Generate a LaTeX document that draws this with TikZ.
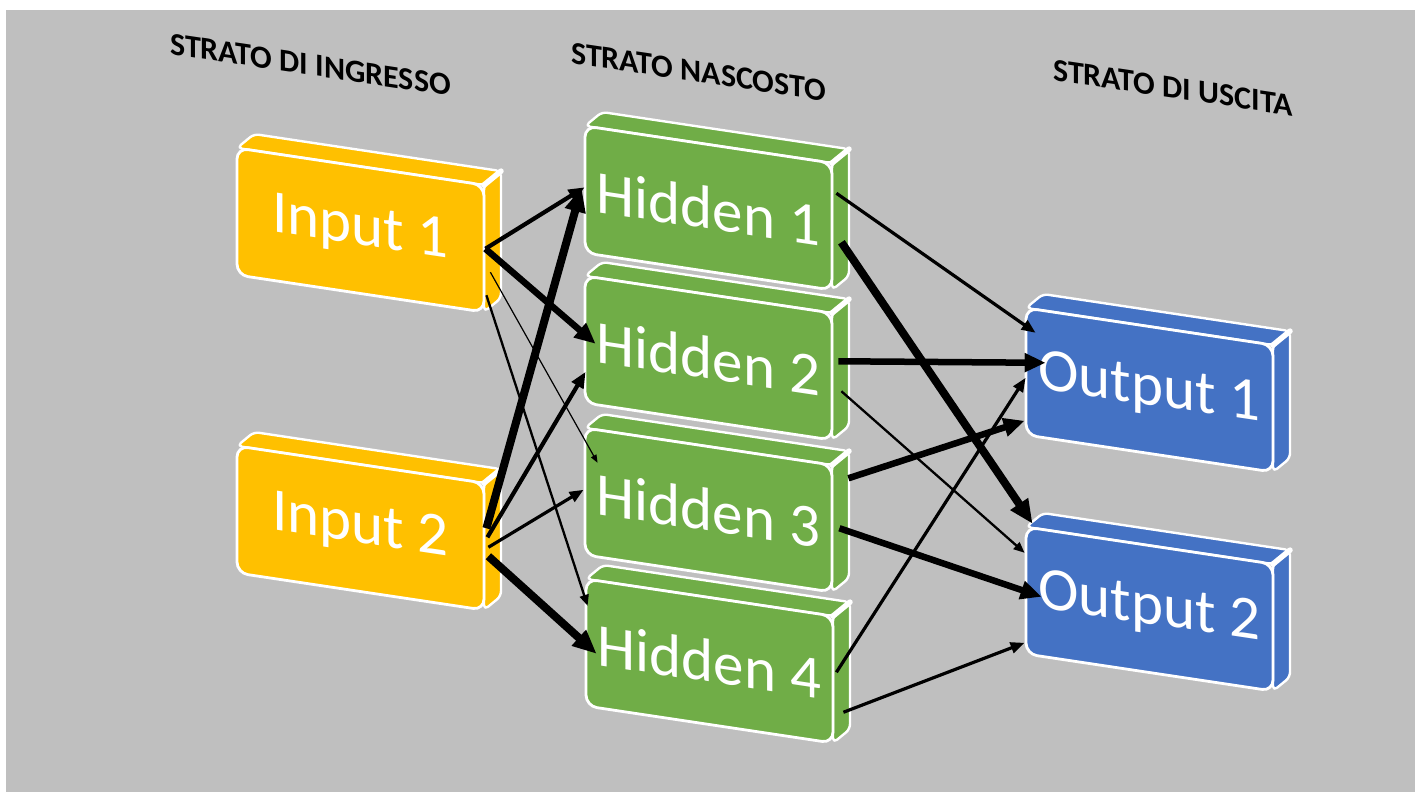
\documentclass[tikz,border=0pt]{standalone}
\usepackage{fontspec}
\setmainfont{Carlito}
\usetikzlibrary{arrows.meta}

\definecolor{canvasgray}{HTML}{BFBFBF}
\definecolor{inputgold}{HTML}{FFC000}
\definecolor{hiddengreen}{HTML}{70AD47}
\definecolor{outputblue}{HTML}{4472C4}

\tikzset{
  slabface/.style={draw=white, line width=2.8pt, rounded corners=11pt,
    minimum width=247pt, minimum height=127pt, inner sep=0pt,
    text=white, font=\fontsize{61}{61}\selectfont},
  slabside/.style={draw=white, line width=2.4pt, rounded corners=5pt, line join=round},
  layertitle/.style={inner sep=0pt, font=\bfseries\fontsize{32}{32}\selectfont, text=black},
  link/.style={draw=black, line cap=butt},
  wA/.style={link, line width=1.2pt, -{Triangle[length=8pt,width=6pt]}},
  wB/.style={link, line width=2.3pt, -{Triangle[length=11pt,width=9pt]}},
  wC/.style={link, line width=3.2pt, -{Triangle[length=14pt,width=11pt]}},
  wD/.style={link, line width=4.2pt, -{Triangle[length=16pt,width=13pt]}},
  wE/.style={link, line width=6.5pt, -{Triangle[length=21pt,width=18pt]}},
  wF/.style={link, line width=8pt, -{Triangle[length=24pt,width=20pt]}},
}

% a slanted 3D slab: #1 name, #2/#3 top-left corner, #4 colour, #5 label
\newcommand{\slab}[5]{%
  \begin{scope}[shift={(#2,#3)}, yslant=-0.15]
    \filldraw[slabside, fill=#4] (0,0) -- (17,-16.5) -- (264,-16.5) -- (247,0) -- cycle;
    \filldraw[slabside, fill=#4] (247,0) -- (264,-16.5) -- (264,110.5) -- (247,127) -- cycle;
    \draw[white, line width=5.5pt, line cap=round] (247,0) -- (264,-16.5);
    \node[slabface, fill=#4, transform shape] (#1) at (123.5,63.5) {#5};
  \end{scope}}

\begin{document}
\begin{tikzpicture}[x=1pt, y=-1pt]
  \useasboundingbox (0,0) rectangle (1415,792);
  \fill[white] (0,0) rectangle (1415,792);
  \fill[canvasgray] (6,10) rectangle (1415,792);

  % layer titles
  \begin{scope}[shift={(170,54)}, yslant=-0.15]
    \node[layertitle, transform shape, anchor=base west] (tin) at (0,0) {STRATO DI INGRESSO};
  \end{scope}
  \begin{scope}[shift={(571,63)}, yslant=-0.15]
    \node[layertitle, transform shape, anchor=base west] (thid) at (0,0) {STRATO NASCOSTO};
  \end{scope}
  \begin{scope}[shift={(1053,80)}, yslant=-0.15]
    \node[layertitle, transform shape, anchor=base west] (tout) at (0,0) {STRATO DI USCITA};
  \end{scope}

  % slabs
  \slab{in1}{237}{148}{inputgold}{Input 1}
  \slab{in2}{237}{446}{inputgold}{Input 2}
  \slab{h1}{585}{126}{hiddengreen}{Hidden 1}
  \slab{h2}{585}{276}{hiddengreen}{Hidden 2}
  \slab{h3}{585}{428}{hiddengreen}{Hidden 3}
  \slab{h4}{586}{579}{hiddengreen}{Hidden 4}
  \slab{o1}{1026}{308}{outputblue}{Output 1}
  \slab{o2}{1026}{527}{outputblue}{Output 2}

  % input -> hidden
  \draw[wD] (in1.east) -- ([shift={(1,-2)}]h1.west);
  \draw[wE] (in1.east) -- ([shift={(12,4.5)}]h2.west);
  \draw[wA] ([shift={(5,23.5)}]in1.east) -- ([shift={(14,-28.5)}]h3.west);
  \draw[wB] ([shift={(1,46.5)}]in1.east) -- ([shift={(3,-36.5)}]h4.west);
  \draw[wF] ([shift={(1,-18.5)}]in2.east) -- ([shift={(-2,-1.5)}]h1.west);
  \draw[wD] ([shift={(2,-9.5)}]in2.east) -- ([shift={(2,32.5)}]h2.west);
  \draw[wC] ([shift={(3,0.5)}]in2.east) -- ([shift={(0,-1.5)}]h3.west);
  \draw[wF] ([shift={(3,9.5)}]in2.east) -- ([shift={(12,11.5)}]h4.west);

  % hidden -> output
  \draw[wC] ([shift={(3,-33.5)}]h1.east) -- ([shift={(11,-38.5)}]o1.west);
  \draw[wF] ([shift={(8,15.5)}]h1.east) -- ([shift={(8,-66.5)}]o2.west);
  \draw[wE] ([shift={(5,-15.5)}]h2.east) -- ([shift={(21,-8.5)}]o1.west);
  \draw[wB] ([shift={(8,14.5)}]h2.east) -- ([shift={(0,-37.5)}]o2.west);
  \draw[wE] ([shift={(15,-50.5)}]h3.east) -- ([shift={(0,49.5)}]o1.west);
  \draw[wE] ([shift={(6,-0.5)}]h3.east) -- ([shift={(17,6.5)}]o2.west);
  \draw[wC] ([shift={(2,-7.5)}]h4.east) -- ([shift={(1,6.5)}]o1.west);
  \draw[wC] ([shift={(9,32.5)}]h4.east) -- ([shift={(0,52.5)}]o2.west);
\end{tikzpicture}
\end{document}
